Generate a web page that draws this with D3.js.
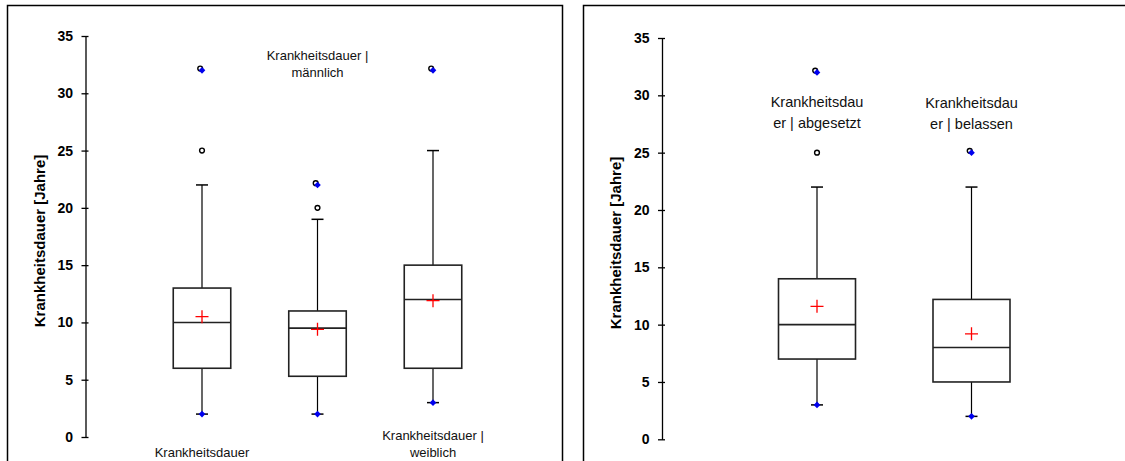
<!DOCTYPE html>
<html lang="de">
<head>
<meta charset="UTF-8">
<title>Krankheitsdauer Boxplots</title>
<script src="https://d3js.org/d3.v7.min.js"></script>
<style>
  body { margin: 0; background: #fff; }
  svg text { font-family: "Liberation Sans", Arial, sans-serif; }
</style>
</head>
<body>
<div id="chart"></div>
<script>
// values
var yTicks = [0, 5, 10, 15, 20, 25, 30, 35];
var axisTitle = "Krankheitsdauer [Jahre]";

// left chart: all / male / female
var leftLabels = [["Krankheitsdauer"], ["Krankheitsdauer |", "männlich"], ["Krankheitsdauer |", "weiblich"]];
var leftMin = [2, 2, 3];
var leftQ1 = [6, 5.3, 6];
var leftMedian = [10, 9.5, 12];
var leftQ3 = [13, 11, 15];
var leftUpperWhisker = [22, 19, 25];
var leftMean = [10.5, 9.4, 11.9];
var leftMax = [32, 22, 32];
var leftOutliers = [[25, 32], [20, 22], [32]];

// right chart: abgesetzt / belassen
var rightLabels = [["Krankheitsdau", "er | abgesetzt"], ["Krankheitsdau", "er | belassen"]];
var rightMin = [3, 2];
var rightQ1 = [7, 5];
var rightMedian = [10, 8];
var rightQ3 = [14, 12.2];
var rightUpperWhisker = [22, 22];
var rightMean = [11.6, 9.2];
var rightMax = [32, 25];
var rightOutliers = [[25, 32], [25]];

var svg = d3.select("#chart")
  .append("svg")
    .attr("width", 1125)
    .attr("height", 461);

function buildRows(labels, mn, q1, med, q3, hi, mean, mx, outl) {
  return labels.map(function(l, i) {
    return {label: l, min: mn[i], q1: q1[i], median: med[i], q3: q3[i],
            hi: hi[i], mean: mean[i], max: mx[i], outliers: outl[i]};
  });
}

function drawPanel(p, rows) {
  // frame around the panel (bottom edge is off the picture)
  svg.append("rect")
    .attr("x", p.frame[0]).attr("y", p.frame[1])
    .attr("width", p.frame[2]).attr("height", 500)
    .attr("fill", "none")
    .attr("stroke", "#000")
    .attr("stroke-width", 1.5);

  var y = d3.scaleLinear().domain([0, 35]).range(p.yRange);
  var x = d3.scalePoint().domain(d3.range(rows.length)).range(p.xRange);

  var yAxis = d3.axisLeft(y)
    .tickValues(yTicks)
    .tickSize(4)
    .tickSizeOuter(0)
    .tickPadding(8.5);

  var ax = svg.append("g")
    .attr("transform", "translate(" + p.axisX + ",0)")
    .call(yAxis);
  ax.select(".domain").attr("stroke", "#000").attr("stroke-width", 1.3);
  ax.selectAll(".tick line").attr("x1", 3).attr("stroke", "#000").attr("stroke-width", 1.3);
  ax.selectAll(".tick text")
    .attr("fill", "#000")
    .style("font-size", "14px")
    .style("font-weight", "bold");

  // y axis title
  svg.append("text")
    .attr("transform", "translate(" + p.titleX + "," + p.titleY + ") rotate(-90)")
    .attr("text-anchor", "middle")
    .style("font-size", "15px")
    .style("font-weight", "bold")
    .text(axisTitle);

  var g = svg.append("g");
  var hw = p.boxWidth / 2;

  rows.forEach(function(d, i) {
    var cx = x(i);
    // whiskers
    g.append("line").attr("x1", cx).attr("x2", cx).attr("y1", y(d.q3)).attr("y2", y(d.hi))
      .attr("stroke", "#000").attr("stroke-width", 1.2);
    g.append("line").attr("x1", cx).attr("x2", cx).attr("y1", y(d.q1)).attr("y2", y(d.min))
      .attr("stroke", "#000").attr("stroke-width", 1.2);
    [d.hi, d.min].forEach(function(v) {
      g.append("line").attr("x1", cx - 6).attr("x2", cx + 6).attr("y1", y(v)).attr("y2", y(v))
        .attr("stroke", "#000").attr("stroke-width", 1.5);
    });
    // box and median
    g.append("rect")
      .attr("x", cx - hw).attr("width", p.boxWidth)
      .attr("y", y(d.q3)).attr("height", y(d.q1) - y(d.q3))
      .attr("fill", "none").attr("stroke", "#222").attr("stroke-width", 1.6);
    g.append("line").attr("x1", cx - hw).attr("x2", cx + hw)
      .attr("y1", y(d.median)).attr("y2", y(d.median))
      .attr("stroke", "#222").attr("stroke-width", 1.6);
    // mean cross
    g.append("path")
      .attr("d", "M" + (cx - 6.5) + "," + y(d.mean) + "H" + (cx + 6.5) +
                 "M" + cx + "," + (y(d.mean) - 6.5) + "V" + (y(d.mean) + 6.5))
      .attr("stroke", "#ff0000").attr("stroke-width", 1.3);
    // outliers (open circles)
    d.outliers.forEach(function(v) {
      var off = v === d.max ? -1.8 : 0;
      g.append("circle")
        .attr("cx", cx + off).attr("cy", y(v) + off).attr("r", 2.4)
        .attr("fill", "#fff").attr("stroke", "#000").attr("stroke-width", 1.4);
    });
    // min / max markers
    [d.min, d.max].forEach(function(v) {
      g.append("path")
        .attr("d", d3.symbol(d3.symbolSquare, 22)())
        .attr("transform", "translate(" + cx + "," + y(v) + ") rotate(45)")
        .attr("fill", "#0000ee");
    });
    // category label
    d.label.forEach(function(line, j) {
      g.append("text")
        .attr("x", cx)
        .attr("y", p.labelY[i] + j * p.lineHeight)
        .attr("text-anchor", "middle")
        .style("font-size", p.labelSize)
        .attr("fill", "#111")
        .text(line);
    });
  });
}

var leftPanel = {
  frame: [7.5, 5.5, 555], axisX: 85.5, yRange: [437, 36],
  xRange: [202, 433], boxWidth: 57.5,
  titleX: 45, titleY: 241,
  labelY: [456.5, 60, 440], lineHeight: 16.5, labelSize: "13px"
};
var rightPanel = {
  frame: [583.5, 5.5, 560], axisX: 662, yRange: [439.3, 38],
  xRange: [817, 971.5], boxWidth: 77,
  titleX: 621, titleY: 243,
  labelY: [106.5, 107.5], lineHeight: 21, labelSize: "14.5px"
};

drawPanel(leftPanel, buildRows(leftLabels, leftMin, leftQ1, leftMedian, leftQ3,
  leftUpperWhisker, leftMean, leftMax, leftOutliers));
drawPanel(rightPanel, buildRows(rightLabels, rightMin, rightQ1, rightMedian, rightQ3,
  rightUpperWhisker, rightMean, rightMax, rightOutliers));
</script>
</body>
</html>
